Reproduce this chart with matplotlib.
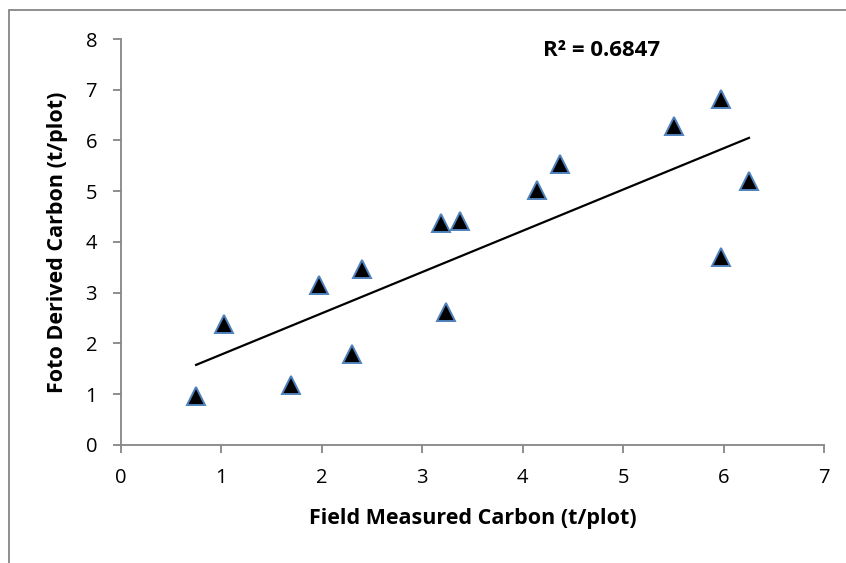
import numpy as np
import matplotlib
matplotlib.use("Agg")
import matplotlib.pyplot as plt
from matplotlib.patches import Rectangle

# field measured vs photo derived carbon (t/plot)
field_c = [0.75, 1.03, 1.69, 1.97, 2.30, 2.40, 3.19, 3.24, 3.38, 4.14, 4.37, 5.50, 5.97, 5.97, 6.25]
foto_c = [0.96, 2.39, 1.17, 3.14, 1.78, 3.47, 4.37, 2.62, 4.41, 5.03, 5.54, 6.29, 6.81, 3.71, 5.21]
r2_text = "R² = 0.6847"
x_ticks = [0, 1, 2, 3, 4, 5, 6, 7]
y_ticks = [0, 1, 2, 3, 4, 5, 6, 7, 8]

plt.rcParams['font.family'] = ['Open Sans', 'DejaVu Sans']
grey = '#868686'

fig = plt.figure(figsize=(8.46, 5.63), dpi=100)
# chart border (cut off at right/bottom like the original)
fig.patches.append(Rectangle((9/846, -0.05), 1.1, 1 - 10/563 + 0.05,
                             transform=fig.transFigure, fill=False,
                             edgecolor=grey, linewidth=1.3))

ax = fig.add_axes([0.1427, 0.2101, 0.8317, 0.7206])
ax.set_xlim(0, 7)
ax.set_ylim(0, 8)

x = np.array(field_c)
y = np.array(foto_c)
m, b = np.polyfit(x, y, 1)
xl = np.array([x.min(), x.max()])
ax.plot(xl, m * xl + b, color='black', linewidth=1.6, zorder=2)

ax.plot(x, y, linestyle='none', marker='^', markersize=13.5,
        markerfacecolor='black', markeredgecolor='#4F81BD',
        markeredgewidth=1.4, zorder=3)

ax.text(4.786, 7.775, r2_text, fontsize=16, fontweight='bold',
        ha='center', va='center')

ax.set_xticks(x_ticks)
ax.set_yticks(y_ticks)
for s in ['top', 'right']:
    ax.spines[s].set_visible(False)
for s in ['left', 'bottom']:
    ax.spines[s].set_color(grey)
    ax.spines[s].set_linewidth(1.3)
ax.tick_params(direction='out', length=5.5, width=1.3, color=grey,
               labelsize=14.5)
ax.tick_params(axis='x', pad=11.5)
ax.tick_params(axis='y', pad=11.5)

ax.set_xlabel('Field Measured Carbon (t/plot)', fontsize=15.5,
              fontweight='bold', va='center')
ax.set_ylabel('Foto Derived Carbon (t/plot)', fontsize=15.5,
              fontweight='bold', va='center')
ax.xaxis.set_label_coords(0.5, -0.183)
ax.yaxis.set_label_coords(-0.0898, 0.5)

fig.savefig('out.png', dpi=100)
